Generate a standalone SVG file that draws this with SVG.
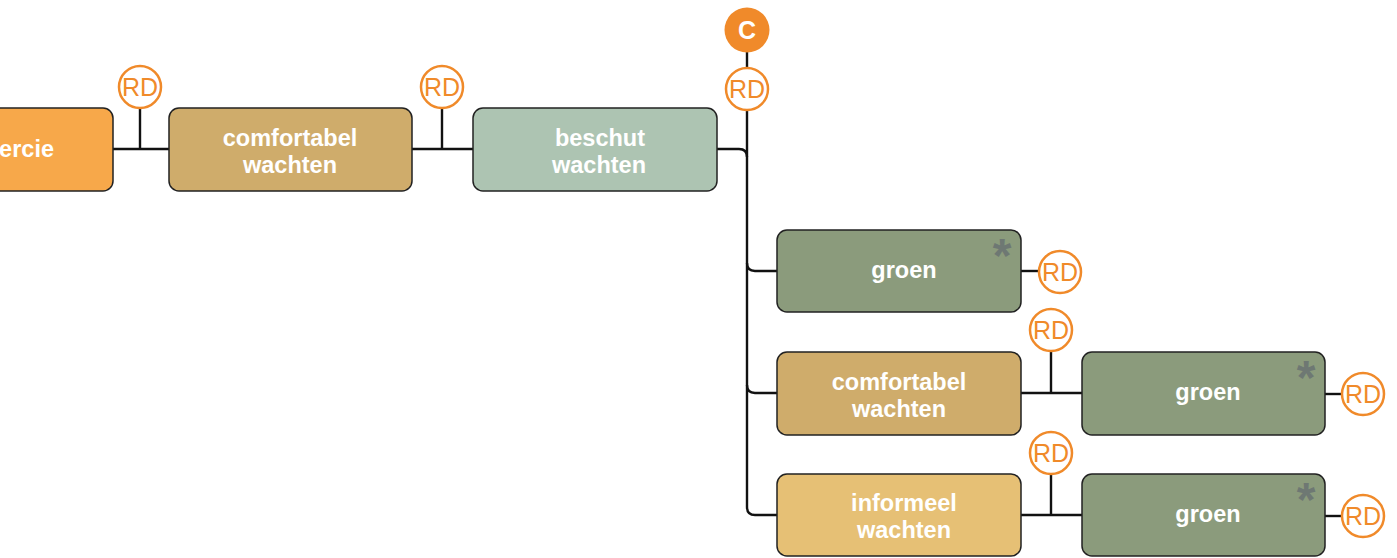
<svg xmlns="http://www.w3.org/2000/svg" width="1397" height="558" viewBox="0 0 1397 558">
<style>
.box{stroke:#222;stroke-width:1.5}
.lbl{font-family:"Liberation Sans",Arial,sans-serif;font-weight:bold;font-size:23.5px;fill:#fff;text-anchor:middle}
.ast{font-family:"Liberation Sans",Arial,sans-serif;font-weight:bold;font-size:48px;fill:#6e7873;text-anchor:middle}
.rd circle{fill:#fff;stroke:#f08a2a;stroke-width:2.5}
.rd text{font-family:"Liberation Sans",Arial,sans-serif;font-size:25px;fill:#f08a2a;text-anchor:middle}
.conn path{fill:none;stroke:#111;stroke-width:2.4}
</style>
<rect width="1397" height="558" fill="#fff"/>
<g class="conn" id="connectors">
<path d="M113,149 H169 M140,108 V149"/>
<path d="M412,149 H473 M442,108 V149"/>
<path d="M747,52 V68"/>
<path d="M747,110 V507 Q747,515 755,515 H777"/>
<path d="M717,149 H739 Q747,149 747,157"/>
<path d="M747,263 Q747,271 755,271 H777"/>
<path d="M747,385 Q747,393 755,393 H777"/>
<path d="M1021,271 H1039"/>
<path d="M1021,393 H1082 M1051,351 V393"/>
<path d="M1325,394 H1342"/>
<path d="M1021,515 H1082 M1051,474 V515"/>
<path d="M1325,516 H1342"/>
</g>
<g id="n1"><rect class="box" x="-131" y="108" width="244" height="83" rx="10" fill="#f7a84a"/><text class="lbl" x="54" y="157" style="text-anchor:end">ercie</text></g>
<g id="n2"><rect class="box" x="169" y="108" width="243" height="83" rx="10" fill="#cfac6b"/><text class="lbl" x="290" y="146">comfortabel</text><text class="lbl" x="290" y="173">wachten</text></g>
<g id="n3"><rect class="box" x="473" y="108" width="244" height="83" rx="10" fill="#adc4b2"/><text class="lbl" x="600" y="146">beschut</text><text class="lbl" x="599" y="173">wachten</text></g>
<g id="n4"><rect class="box" x="777" y="230" width="244" height="82" rx="10" fill="#8b9b7c"/><text class="lbl" x="904" y="278">groen</text><text class="ast" x="1002" y="272">*</text></g>
<g id="n5"><rect class="box" x="777" y="352" width="244" height="83" rx="10" fill="#cfac6b"/><text class="lbl" x="899" y="390">comfortabel</text><text class="lbl" x="899" y="417">wachten</text></g>
<g id="n6"><rect class="box" x="1082" y="352" width="243" height="83" rx="10" fill="#8b9b7c"/><text class="lbl" x="1208" y="400">groen</text><text class="ast" x="1306" y="394">*</text></g>
<g id="n7"><rect class="box" x="777" y="474" width="244" height="82" rx="10" fill="#e6c075"/><text class="lbl" x="904" y="511">informeel</text><text class="lbl" x="904" y="538">wachten</text></g>
<g id="n8"><rect class="box" x="1082" y="474" width="243" height="82" rx="10" fill="#8b9b7c"/><text class="lbl" x="1208" y="522">groen</text><text class="ast" x="1306" y="516">*</text></g>
<g id="c"><circle cx="747" cy="30" r="22.5" fill="#f08a2a"/><text class="lbl" x="747" y="39" style="font-size:25px">C</text></g>
<g class="rd" id="rd1"><circle cx="140" cy="87" r="21"/><text x="140" y="96">RD</text></g>
<g class="rd" id="rd2"><circle cx="442" cy="87" r="21"/><text x="442" y="96">RD</text></g>
<g class="rd" id="rd3"><circle cx="747" cy="89" r="21"/><text x="747" y="98">RD</text></g>
<g class="rd" id="rd4"><circle cx="1060" cy="272" r="21"/><text x="1060" y="281">RD</text></g>
<g class="rd" id="rd5"><circle cx="1051" cy="330" r="21"/><text x="1051" y="339">RD</text></g>
<g class="rd" id="rd6"><circle cx="1363" cy="394" r="21"/><text x="1363" y="403">RD</text></g>
<g class="rd" id="rd7"><circle cx="1051" cy="453" r="21"/><text x="1051" y="462">RD</text></g>
<g class="rd" id="rd8"><circle cx="1363" cy="516" r="21"/><text x="1363" y="525">RD</text></g>
</svg>
